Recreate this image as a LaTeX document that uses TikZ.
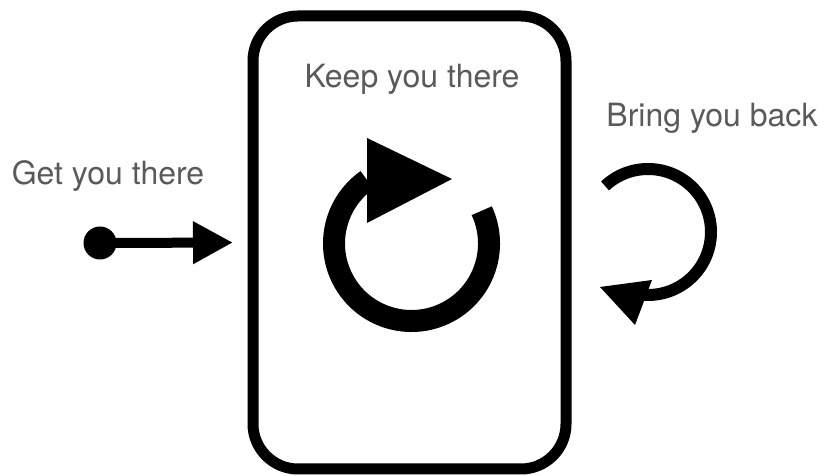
\documentclass[tikz,border=0pt]{standalone}
\usepackage{fontspec}
\setmainfont{TeX Gyre Heros}
\usetikzlibrary{arrows.meta,positioning,calc}
\definecolor{labelgray}{HTML}{5A5A5A}
\tikzset{labeltext/.style={font=\fontsize{32}{36}\selectfont, text=labelgray, inner sep=0pt, anchor=base}}

\begin{document}
\begin{tikzpicture}[x=1pt,y=1pt]
  \useasboundingbox (0,0) rectangle (833,476);
  \node[draw, line width=11pt, rounded corners=45pt, minimum width=313pt, minimum height=453pt, inner sep=0pt] (box) at (409.5,233.5) {};
  \node[labeltext] (keep) at (412,388) {Keep you there};
  \node[labeltext] (get) at (108,291) {Get you there};
  \node[labeltext] (back) at (712,349) {Bring you back};
  % get you there
  \node[circle, fill, minimum size=33pt, inner sep=0pt] (start) at (100,233) {};
  \draw[line width=10pt, -{Triangle[length=40pt,width=40pt]}, shorten >=14.5pt] (start.center) -- (box.west);
  % keep you there
  \coordinate (loop) at (411.5,232.5);
  \draw[line width=22pt] ($(loop)+(25:77.5)$) arc[start angle=25, end angle=-235, radius=77.5];
  \fill (367,338) -- (452,297) -- (367,253) -- cycle;
  % bring you back
  \coordinate (swing) at (648,244);
  \draw[line width=12pt] ($(swing)+(133:63)$) arc[start angle=133, end angle=-95, radius=63];
  \fill (600,189) -- (652,196) -- (635,151) -- cycle;
\end{tikzpicture}
\end{document}
